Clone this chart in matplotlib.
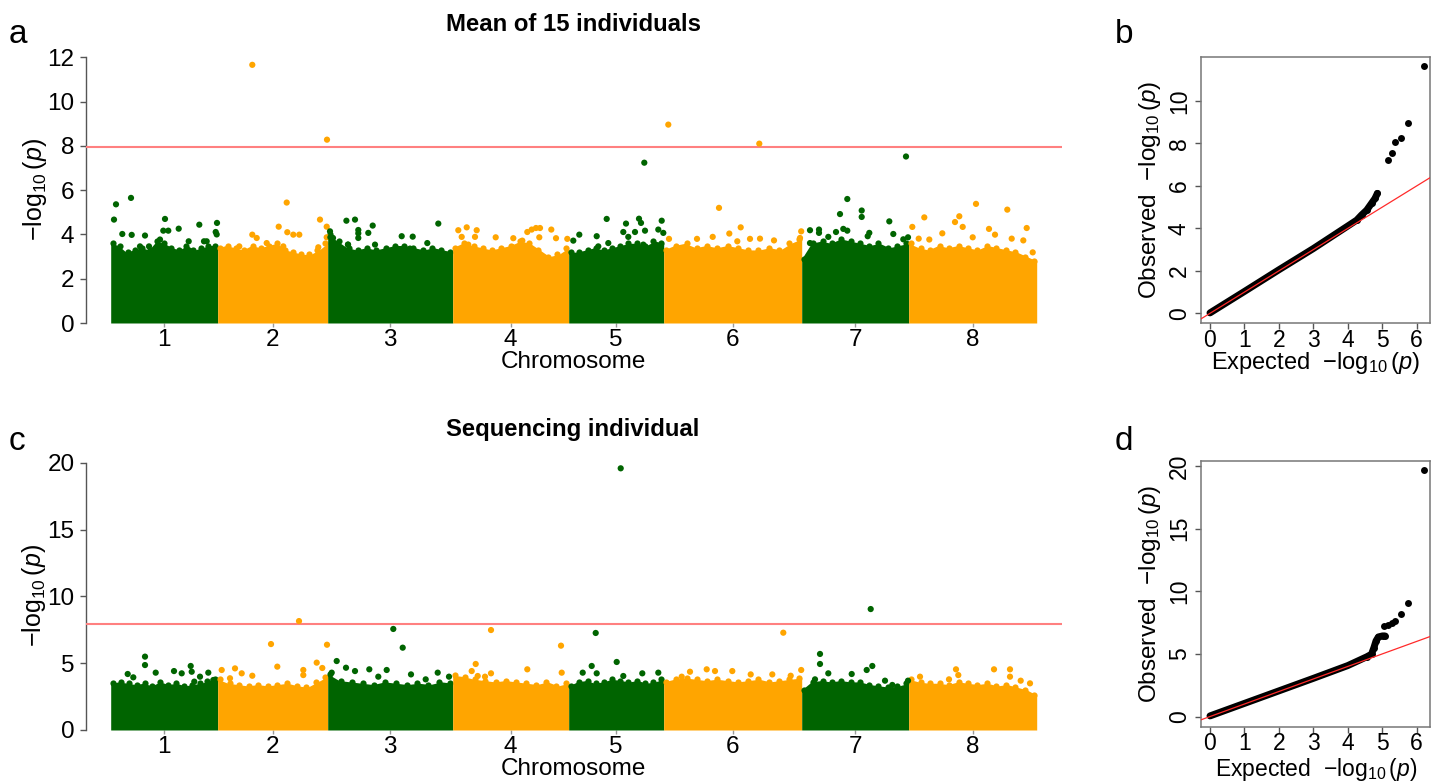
import numpy as np
import matplotlib
matplotlib.use("Agg")
import matplotlib.pyplot as plt

W, H = 1431, 781
plt.rcParams['font.family'] = ['Liberation Sans', 'DejaVu Sans']
plt.rcParams['mathtext.fontset'] = 'custom'
plt.rcParams['mathtext.rm'] = 'Liberation Sans'
plt.rcParams['mathtext.it'] = 'Liberation Sans:italic'
plt.rcParams['mathtext.bf'] = 'Liberation Sans:bold'

# ---------------- data ----------------
chromosomes = ['1', '2', '3', '4', '5', '6', '7', '8']
chr_len = [107, 110, 125, 116, 95, 138, 107, 128]
threshold = 7.93

# upper envelope of the dense SNP cloud, per chromosome (panel a)
a_env = [
    [3.6, 3.5, 3.2, 3.3, 3.4, 3.3, 3.7, 3.6, 3.4, 3.3, 3.5, 3.3, 3.4, 3.5, 3.5],
    [3.4, 3.5, 3.4, 3.3, 3.5, 3.4, 3.5, 3.6, 3.3, 3.2, 3.1, 3.1, 3.3, 3.6],
    [4.0, 3.7, 3.4, 3.3, 3.4, 3.3, 3.4, 3.5, 3.5, 3.4, 3.3, 3.4, 3.3, 3.2],
    [3.4, 3.6, 3.5, 3.4, 3.3, 3.4, 3.5, 3.7, 3.6, 3.3, 3.0, 3.1, 3.4],
    [3.2, 3.2, 3.3, 3.4, 3.3, 3.4, 3.5, 3.6, 3.6, 3.5, 3.7, 3.6],
    [3.3, 3.5, 3.6, 3.4, 3.5, 3.4, 3.5, 3.4, 3.3, 3.3, 3.4, 3.3, 3.6, 3.8],
    [2.9, 3.6, 3.7, 3.6, 3.8, 3.7, 3.6, 3.5, 3.6, 3.4, 3.5, 3.6],
    [3.6, 3.4, 3.3, 3.5, 3.4, 3.5, 3.4, 3.3, 3.5, 3.4, 3.3, 3.2, 3.0, 2.8],
]
# scattered SNPs above the cloud (panel a): chromosome, position within chromosome, -log10(p)
a_chr = [1]*20 + [2]*16 + [3]*18 + [4]*18 + [5]*18 + [6]*14 + [7]*19 + [8]*17
a_pos = [3.3, 5.3, 20.3, 11.6, 21, 34.3, 38.3, 29.3, 54.3, 52.6, 57.6, 68, 49.3, 78, 88.6, 93.3, 96, 106, 106.3, 105,
         34.6, 109.3, 69, 61, 69.6, 75.6, 81.6, 34.6, 39, 102.3, 109, 109, 100.6, 21.6, 49, 65.6,
         18.7, 27.3, 45, 30.6, 30.6, 30.6, 40.6, 20.3, 110.6, 74, 85, 99.6, 82.3, 2.3, 2.7, 5.3, 20.3, 47.3,
         5.6, 14, 24, 22.3, 9, 15.6, 43, 60.6, 59.6, 69.6, 74.6, 79, 83.3, 87.3, 86.6, 98.6, 103.3, 114.6,
         75.6, 38, 70.3, 72.3, 93, 57.3, 54.6, 66.3, 76.3, 89.6, 94.6, 10.6, 4.6, 28, 29.6, 39.6, 59.6, 74.6,
         4.6, 5.3, 95.6, 55.3, 77, 65.6, 49, 73.6, 86.3, 96.3, 110.3, 137.5, 136.3, 33.3,
         104.3, 45.6, 38.3, 60, 60, 87.6, 91.6, 101.6, 106.3, 8.3, 17.3, 17.3, 8.3, 34.3, 41.6, 45.6, 26.6, 67.6, 66,
         67.3, 98.6, 15.6, 50.6, 46.3, 54, 3.6, 118, 80.3, 86.3, 33.6, 10, 20.6, 64, 103, 114.6, 124]
a_val = [4.67, 5.36, 5.65, 4.02, 3.98, 3.95, 3.46, 3.46, 4.70, 4.17, 4.17, 4.26, 3.77, 3.69, 4.44, 3.69, 3.69, 4.0, 4.52, 4.11,
         11.66, 8.28, 5.44, 4.35, 4.10, 3.99, 3.99, 3.99, 3.84, 4.67, 4.35, 3.87, 3.42, 3.46, 3.61, 3.46,
         4.62, 4.67, 4.40, 4.20, 4.05, 3.84, 4.07, 3.54, 4.49, 3.92, 3.90, 3.61, 3.36, 4.14, 3.87, 3.84, 3.54, 3.54,
         4.19, 4.32, 4.19, 3.89, 3.89, 3.54, 3.87, 3.83, 3.43, 3.72, 4.11, 4.22, 4.29, 4.29, 3.87, 4.22, 3.83, 3.80,
         7.24, 4.70, 4.71, 4.52, 4.62, 4.49, 4.11, 4.11, 4.17, 4.22, 4.07, 3.99, 3.72, 3.92, 3.46, 3.61, 3.89, 3.54,
         8.96, 3.80, 8.10, 5.20, 4.32, 4.04, 3.89, 3.69, 3.80, 3.81, 3.73, 4.14, 3.84, 3.80,
         7.52, 5.60, 4.92, 5.08, 4.79, 4.59, 4.02, 3.78, 3.87, 4.19, 4.22, 4.07, 3.61, 4.11, 4.25, 4.17, 3.89, 4.07, 3.92,
         5.38, 5.12, 4.77, 4.82, 4.56, 4.34, 4.34, 4.29, 4.25, 3.99, 4.05, 3.81, 3.77, 3.87, 3.81, 3.73, 3.19]

# panel c
c_env = [
    [3.5, 3.6, 3.5, 3.4, 3.5, 3.3, 3.6, 3.4, 3.5, 3.3, 3.4, 3.5, 3.7, 3.8],
    [3.8, 3.5, 3.4, 3.3, 3.4, 3.3, 3.4, 3.5, 3.3, 3.2, 3.6, 4.0],
    [4.2, 3.7, 3.6, 3.5, 3.4, 3.6, 3.5, 3.4, 3.5, 3.4, 3.6, 3.5],
    [4.1, 4.0, 3.8, 3.7, 3.6, 3.7, 3.6, 3.5, 3.4, 3.6, 3.3, 3.5],
    [3.3, 3.6, 3.7, 3.5, 3.6, 3.8, 3.7, 3.6, 3.7, 3.5, 3.6, 3.8],
    [3.6, 3.8, 3.9, 3.8, 3.7, 3.8, 3.7, 3.6, 3.7, 3.8, 3.6, 3.7, 3.8, 3.9],
    [3.0, 3.6, 3.7, 3.6, 3.7, 3.6, 3.6, 3.4, 3.3, 3.2, 3.3, 3.5],
    [3.8, 3.6, 3.5, 3.5, 3.4, 3.6, 3.5, 3.4, 3.5, 3.3, 3.4, 3.2, 3.0, 2.6],
]
c_chr = [1]*13 + [2]*13 + [3]*13 + [4]*9 + [5]*9 + [6]*10 + [7]*11 + [8]*9
c_pos = [34.3, 34.3, 17, 22.6, 45, 63.3, 71, 80, 81, 83.6, 89.3, 97.6, 102.6,
         81.3, 53.3, 109.3, 59.6, 99, 104.6, 85.6, 85.6, 4, 17.3, 24, 34.6, 12.3,
         9, 18.3, 4, 65.6, 75, 27.3, 41.6, 59, 50.6, 83.3, 98, 110, 121.3,
         38.3, 108.3, 109, 74.6, 23, 19, 25, 32.3, 38.3,
         52, 27, 48, 23, 28, 14, 73.6, 89.6, 54.6,
         119.6, 43, 51.3, 68.6, 87, 108.6, 127, 137.5, 26.3, 18,
         69, 18.3, 18.3, 26.6, 70.6, 65, 50, 83.3, 90.6, 106.3, 13.3,
         47.3, 85.3, 101.3, 101.3, 11.3, 40.3, 112, 121.3, 49.6]
c_val = [5.49, 4.86, 4.19, 3.94, 4.29, 4.41, 4.24, 4.79, 4.36, 3.62, 3.99, 4.29, 3.74,
         8.15, 6.43, 6.38, 4.74, 5.04, 4.64, 4.49, 4.11, 4.49, 4.61, 4.24, 4.06, 3.87,
         5.16, 4.66, 4.29, 7.56, 6.16, 4.41, 4.54, 4.49, 3.99, 4.16, 3.79, 4.29, 3.99,
         7.48, 6.31, 4.29, 4.54, 4.94, 4.41, 4.04, 3.99, 4.24,
         19.58, 7.26, 5.09, 4.79, 4.24, 4.29, 4.24, 4.29, 4.04,
         7.28, 4.54, 4.41, 4.41, 4.16, 4.16, 4.06, 4.49, 4.36, 3.99,
         9.05, 5.69, 4.94, 4.24, 4.79, 4.49, 4.19, 3.69, 3.37, 3.69, 3.79,
         4.54, 4.54, 4.54, 3.99, 3.99, 3.79, 3.69, 3.49, 4.11]

# QQ plots: expected vs observed -log10(p)
b_bulk_exp = [0, 1, 2, 3, 3.97, 4.26, 4.40, 4.55, 4.69, 4.79, 4.86]
b_bulk_obs = [0.02, 1.03, 2.05, 3.05, 4.08, 4.39, 4.63, 4.86, 5.18, 5.41, 5.65]
b_tail_exp = [5.18, 5.28, 5.37, 5.54, 5.76, 6.22]
b_tail_obs = [7.22, 7.53, 8.08, 8.27, 8.95, 11.66]

d_bulk_exp = [0, 1, 2, 3, 4, 4.55, 4.69, 4.76, 4.82, 4.89, 5.01, 5.08]
d_bulk_obs = [0.05, 1.05, 2.05, 3.05, 4.07, 4.77, 4.98, 5.51, 6.04, 6.36, 6.44, 6.44]
d_tail_exp = [5.05, 5.16, 5.28, 5.37, 5.54, 5.76, 6.22]
d_tail_obs = [7.21, 7.34, 7.47, 7.60, 8.16, 9.06, 19.66]

# ---------------- styling ----------------
GREEN = '#006400'
ORANGE = '#FFA500'
AXC = '#555555'
MS = 20      # marker area, manhattan
MS_QQ = 25   # marker area, qq


def px_rect(l, t, r, b):
    return [l / W, 1 - b / H, (r - l) / W, (b - t) / H]


def ftext(x, y, s, **kw):
    fig.text(x / W, 1 - y / H, s, **kw)


fig = plt.figure(figsize=(W / 100, H / 100), dpi=100)

starts = np.concatenate([[0], np.cumsum(chr_len)[:-1]])
mids = starts + np.array(chr_len) / 2.0
XL = (-24.7, 951.3)


def manhattan(ax, env, pchr, ppos, pval, ymax, yticks):
    cols = [GREEN, ORANGE]
    for i in range(len(chromosomes)):
        col = cols[i % 2]
        n = len(env[i])
        xe = np.linspace(starts[i], starts[i] + chr_len[i], n)
        ax.fill_between(xe, 0, env[i], color=col, lw=0, zorder=2)
        xd = np.linspace(starts[i] + 2.5, starts[i] + chr_len[i] - 2.5, n)
        ax.scatter(xd, env[i], s=MS, color=col, lw=0, zorder=2)
    pchr = np.array(pchr)
    x = starts[pchr - 1] + np.array(ppos)
    c = [cols[(k - 1) % 2] for k in pchr]
    ax.scatter(x, pval, s=MS, c=c, lw=0, zorder=4, clip_on=False)
    ax.axhline(threshold, color='#ff8080', lw=1.5, zorder=3)
    ax.set_xlim(*XL)
    ax.set_ylim(0, ymax)
    for s in ['top', 'right', 'bottom']:
        ax.spines[s].set_visible(False)
    ax.spines['left'].set_color(AXC)
    ax.spines['left'].set_linewidth(1.0)
    ax.set_yticks(yticks)
    ax.set_xticks(mids)
    ax.set_xticklabels(chromosomes)
    ax.tick_params(axis='y', length=4.3, width=1.0, color=AXC, labelsize=17.5, pad=4.0)
    ax.tick_params(axis='x', length=3, width=1.0, color='#999999', labelsize=17.5, pad=1.5)
    ax.patch.set_alpha(0)


def qq(ax, bx, by, tx, ty, xlim, ylim, yticks):
    ax.plot(bx, by, color='black', lw=5, solid_capstyle='round', solid_joinstyle='round', zorder=2)
    ax.scatter(bx[5:], by[5:], s=MS_QQ, color='black', lw=0, zorder=2)
    ax.scatter(tx, ty, s=MS_QQ, color='black', lw=0, zorder=3, clip_on=False)
    ax.plot([-2, 30], [-2, 30], color='#ff2a2a', lw=0.9, zorder=4)
    ax.set_xlim(*xlim)
    ax.set_ylim(*ylim)
    for s in ax.spines.values():
        s.set_color('#777777')
        s.set_linewidth(1.1)
    ax.set_xticks(range(7))
    ax.set_yticks(yticks)
    ax.tick_params(axis='x', length=4.0, width=1.0, color=AXC, labelsize=16.5, pad=0.3)
    ax.tick_params(axis='y', length=4.3, width=1.0, color=AXC, labelsize=16.5, pad=3.0,
                   labelrotation=90)
    for lab in ax.get_yticklabels():
        lab.set_va('center')


# Panel a
ax_a = fig.add_axes(px_rect(86, 57.3, 1062, 323))
manhattan(ax_a, a_env, a_chr, a_pos, a_val, 12, [0, 2, 4, 6, 8, 10, 12])
# Panel c
ax_c = fig.add_axes(px_rect(86, 462.7, 1062, 730))
manhattan(ax_c, c_env, c_chr, c_pos, c_val, 20, [0, 5, 10, 15, 20])

# Panel b
ax_b = fig.add_axes(px_rect(1201, 57.3, 1430, 322.7))
qq(ax_b, b_bulk_exp, b_bulk_obs, b_tail_exp, b_tail_obs, (-0.261, 6.388), (-0.442, 12.06),
   [0, 2, 4, 6, 8, 10])
# Panel d
ax_d = fig.add_axes(px_rect(1201, 460.5, 1430, 726.5))
qq(ax_d, d_bulk_exp, d_bulk_obs, d_tail_exp, d_tail_obs, (-0.261, 6.388), (-0.795, 20.45),
   [0, 5, 10, 15, 20])

ylab = r'$-\log_{10}(p)$'
# texts
ftext(573, 30.7, 'Mean of 15 individuals', ha='center', va='baseline', fontsize=17.2, fontweight='bold')
ftext(573, 436, 'Sequencing individual', ha='center', va='baseline', fontsize=17.2, fontweight='bold')
ftext(573, 368, 'Chromosome', ha='center', va='baseline', fontsize=17.5)
ftext(573, 775, 'Chromosome', ha='center', va='baseline', fontsize=17.5)
ftext(35, 190, ylab, ha='center', va='center', rotation=90, fontsize=18)
ftext(34, 596, ylab, ha='center', va='center', rotation=90, fontsize=18)
ftext(1150, 190, 'Observed  ' + ylab, ha='center', va='center', rotation=90, fontsize=17.5)
ftext(1150, 594, 'Observed  ' + ylab, ha='center', va='center', rotation=90, fontsize=17.5)
ftext(1316, 369, 'Expected  ' + ylab, ha='center', va='baseline', fontsize=17)
ftext(1316, 776, 'Expected  ' + ylab, ha='center', va='baseline', fontsize=16.5)

ftext(9, 43, 'a', ha='left', va='baseline', fontsize=24)
ftext(1115, 43, 'b', ha='left', va='baseline', fontsize=24)
ftext(9, 450, 'c', ha='left', va='baseline', fontsize=24)
ftext(1115, 450, 'd', ha='left', va='baseline', fontsize=24)

fig.savefig('out.png', dpi=100)
